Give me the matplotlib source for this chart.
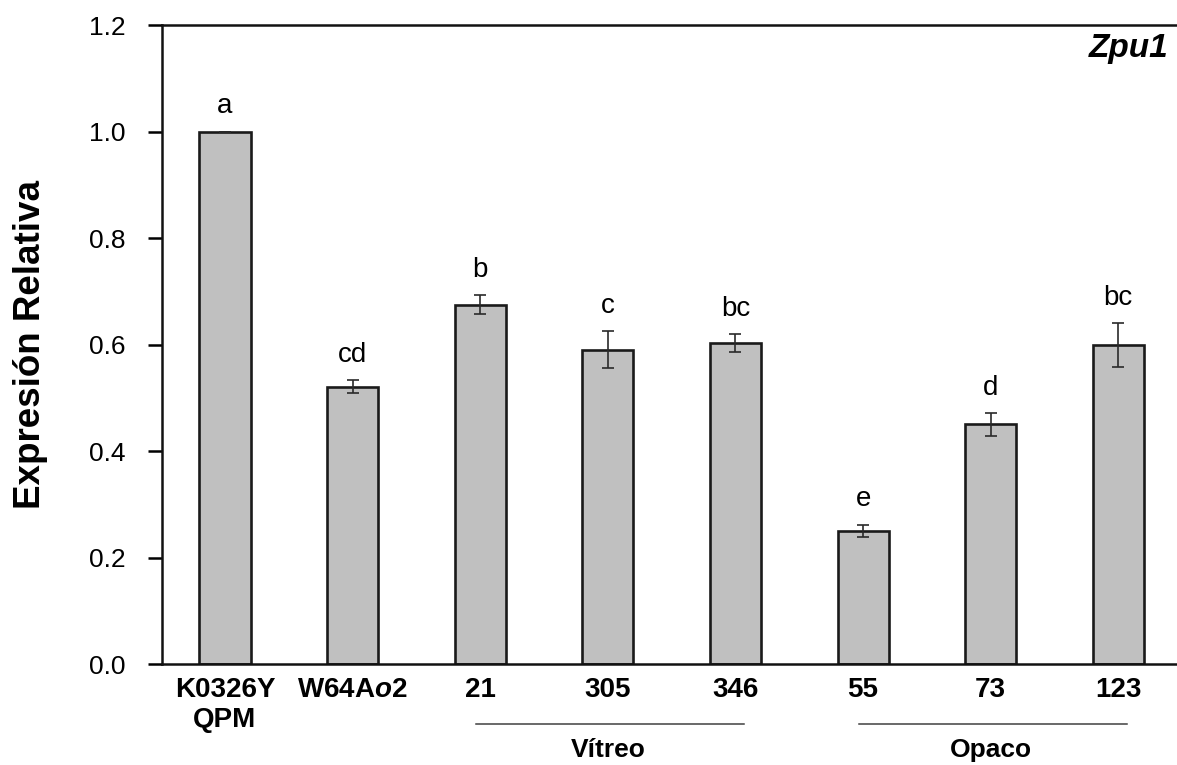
import matplotlib
matplotlib.use('Agg')
import matplotlib.pyplot as plt
import matplotlib.transforms as mtransforms

plt.rcParams['font.family'] = ['Liberation Sans', 'DejaVu Sans']
plt.rcParams['mathtext.fontset'] = 'custom'
plt.rcParams['mathtext.it'] = 'Liberation Sans:bold:italic'
plt.rcParams['mathtext.rm'] = 'Liberation Sans:bold'

# datos
genotypes = ['K0326Y\nQPM', r'W64A$\mathit{o}$2', '21', '305', '346', '55', '73', '123']
expression = [1.0, 0.521, 0.675, 0.590, 0.603, 0.250, 0.450, 0.599]
errors = [0.0, 0.012, 0.018, 0.035, 0.017, 0.012, 0.021, 0.042]
letters = ['a', 'cd', 'b', 'c', 'bc', 'e', 'd', 'bc']
groups = {'Vítreo': (2, 4), 'Opaco': (5, 7)}

fig = plt.figure(figsize=(11.77, 7.65), dpi=100)
ax = fig.add_axes([0.1376, 0.132, 0.8624, 0.8353])

x = list(range(len(genotypes)))
ax.bar(x, expression, width=0.4, color='#c0c0c0', edgecolor='#1a1a1a',
       linewidth=1.9, zorder=2)
ax.errorbar(x, expression, yerr=errors, fmt='none', ecolor='#2a2a2a',
            elinewidth=1.2, capsize=4, capthick=1.2, zorder=3)

for xi, val, err, lab in zip(x, expression, errors, letters):
    ax.annotate(lab, (xi, val + err), xytext=(0, 13), textcoords='offset points',
                ha='center', va='baseline', fontsize=20)

ax.set_xlim(-0.494, 7.46)
ax.set_ylim(0, 1.2)
ax.set_yticks([0.0, 0.2, 0.4, 0.6, 0.8, 1.0, 1.2])
ax.set_yticklabels(['0.0', '0.2', '0.4', '0.6', '0.8', '1.0', '1.2'], fontsize=19)
ax.set_xticks(x)
ax.set_xticklabels(genotypes, fontsize=20, fontweight='bold')
ax.tick_params(axis='y', direction='out', length=10, width=1.8, pad=16)
ax.tick_params(axis='x', length=0, pad=9)

ax.spines['right'].set_visible(False)
for s in ['left', 'bottom', 'top']:
    ax.spines[s].set_linewidth(1.8)
    ax.spines[s].set_color('#111111')

ax.set_ylabel('Expresión Relativa', fontsize=26.5, fontweight='bold')
ax.yaxis.set_label_coords(-0.112, 0.5)

ax.text(0.992, 0.95, 'Zpu1', transform=ax.transAxes, ha='right', va='baseline',
        fontsize=24, fontweight='bold', fontstyle='italic')

trans = mtransforms.blended_transform_factory(ax.transData, ax.transAxes)
for name, (i0, i1) in groups.items():
    ax.plot([i0 - 0.03, i1 + 0.07], [-0.094, -0.094], color='#404040', lw=1.1,
            transform=trans, clip_on=False)
    ax.text((i0 + i1) / 2, -0.135, name, transform=trans, ha='center', va='center',
            fontsize=19, fontweight='bold')

fig.savefig('out.png', dpi=100)
